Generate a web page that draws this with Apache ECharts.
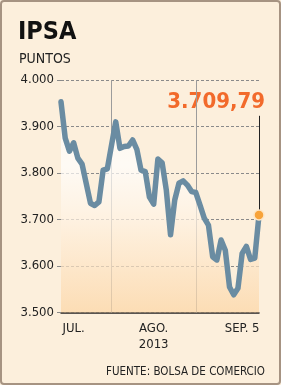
<!DOCTYPE html>
<html>
<head>
<meta charset="utf-8">
<style>
html,body{margin:0;padding:0;background:#fcefdc;}
#chart{width:281px;height:385px;}
</style>
<script src="https://cdn.jsdelivr.net/npm/echarts@6/dist/echarts.min.js"></script>
</head>
<body>
<div id="chart"></div>
<script>
// Data (IPSA closing points, July 1 – Sep 5 2013)
const days = Array.from({length: 48}, (_, i) => String(i));
const ipsaValues = [3953,3875,3847,3865,3832,3819,3777,3735,3730,3738,3806,3809,3860,3910,3853,3857,3858,3871,3851,3806,3803,3748,3733,3830,3822,3763,3667,3742,3778,3783,3774,3760,3758,3731,3703,3688,3620,3613,3656,3634,3555,3538,3552,3627,3642,3614,3617,3709.79];
const xTickIndex = [3, 22, 43];
const xTickLabels = ['JUL.', 'AGO.\n2013', 'SEP. 5'];
const monthDividers = [12, 32];
const yTicks = [3500, 3600, 3700, 3800, 3900, 4000];
const pointerTop = 3923;

const lastIdx = ipsaValues.length - 1;
const lastVal = ipsaValues[lastIdx];
function fmtLast(v){
  const parts = v.toFixed(2).split('.');
  const intPart = parts[0].replace(/\B(?=(\d{3})+(?!\d))/g, '.');
  return intPart + ',' + parts[1];
}
const COND = "'DejaVu Sans Condensed','DejaVu Sans',sans-serif";

const chart = echarts.init(document.getElementById('chart'), null, {renderer: 'canvas'});
chart.setOption({
  backgroundColor: '#fcefdc',
  animation: false,
  grid: {left: 61, right: 22, top: 80, bottom: 72.5, containLabel: false},
  xAxis: {
    type: 'category',
    data: days,
    boundaryGap: false,
    axisLine: {show: true, lineStyle: {color: '#222', width: 1.5}},
    axisTick: {show: false},
    splitLine: {show: false},
    axisLabel: {
      interval: 0,
      margin: 8,
      color: '#222',
      fontFamily: COND,
      fontSize: 13,
      lineHeight: 16,
      formatter: (v, i) => {
        const k = xTickIndex.indexOf(i);
        return k >= 0 ? xTickLabels[k] : '';
      }
    }
  },
  yAxis: {
    type: 'value',
    min: yTicks[0],
    max: yTicks[yTicks.length - 1],
    interval: 100,
    axisLine: {show: false},
    axisTick: {show: true, length: 4, lineStyle: {color: '#8a8a8a', type: 'dashed', width: 1}},
    splitLine: {show: true, lineStyle: {color: '#8a8a8a', type: [3, 2], width: 1}},
    axisLabel: {
      margin: 7,
      color: '#222',
      fontFamily: COND,
      fontSize: 13,
      formatter: v => (v / 1000).toFixed(3)
    }
  },
  series: [{
    type: 'line',
    data: ipsaValues,
    symbol: 'none',
    smooth: false,
    lineStyle: {color: '#6a8ca2', width: 5.5, cap: 'round', join: 'round'},
    areaStyle: {
      color: new echarts.graphic.LinearGradient(0, 0, 0, 1, [
        {offset: 0, color: '#fffaf3'},
        {offset: 0.3, color: '#ffffff'},
        {offset: 0.55, color: '#fff3e4'},
        {offset: 1, color: '#fcd5a4'}
      ])
    },
    z: 3,
    markLine: {
      silent: true,
      symbol: 'none',
      label: {show: false},
      z: 1,
      data: [
        ...monthDividers.map(i => ({xAxis: i, lineStyle: {color: '#9c9c9c', width: 1, type: 'solid'}})),
        [{coord: [lastIdx, lastVal], lineStyle: {color: '#222', width: 1, type: 'solid'}}, {coord: [lastIdx, pointerTop]}]
      ]
    },
    markPoint: {
      silent: true,
      data: [{
        coord: [lastIdx, lastVal],
        symbol: 'circle',
        symbolSize: 10,
        itemStyle: {color: '#f7a33a', borderColor: '#fde6c6', borderWidth: 1.5},
        label: {show: false}
      }]
    }
  }],
  graphic: [
    {type: 'rect', shape: {x: 1, y: 1, width: 279, height: 383, r: 3}, style: {fill: 'none', stroke: '#a69382', lineWidth: 2}, z: 100},
    {type: 'text', left: 18, top: 20, style: {text: 'IPSA', font: "bold 25px " + COND, fill: '#111'}},
    {type: 'text', left: 19, top: 52, style: {text: 'PUNTOS', font: "14px " + COND, fill: '#222'}},
    {type: 'text', right: 16, top: 91, style: {text: fmtLast(lastVal), font: "bold 22px " + COND, fill: '#f26a2b'}},
    {type: 'text', right: 16, top: 366, style: {text: 'FUENTE: BOLSA DE COMERCIO', font: "11.5px " + COND, fill: '#222'}}
  ]
});
</script>
</body>
</html>
